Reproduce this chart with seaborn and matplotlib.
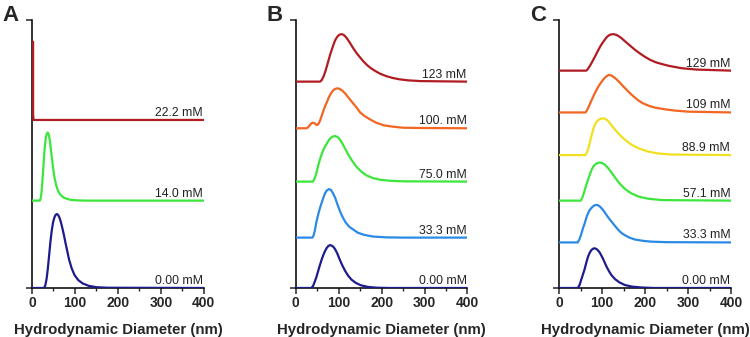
import numpy as np
import pandas as pd
import matplotlib
matplotlib.use("Agg")
import matplotlib.pyplot as plt
import seaborn as sns
from matplotlib.ticker import MultipleLocator

# colours
NAVY = '#1c1c8c'
BLUE = '#2a8ae6'
GREEN = '#3ce63c'
YELLOW = '#f0e020'
ORANGE = '#f26522'
RED = '#b01c22'

# ---- panel A (stacked, offset values) ----
a_navy_x = [0, 28, 31, 34, 37, 40, 43, 46, 49, 52, 55, 58, 61, 64, 67, 70, 74, 78, 82, 86, 92, 99, 108, 118, 132, 150, 175, 400]
a_navy_y = [0, 0, 0.01, 0.035, 0.075, 0.125, 0.175, 0.215, 0.245, 0.263, 0.273, 0.276, 0.272, 0.262, 0.247, 0.228, 0.2,
            0.168, 0.138, 0.108, 0.075, 0.048, 0.029, 0.017, 0.008, 0.003, 0.001, 0]
a_green_x = [0, 18, 20, 22, 24, 26, 28, 30, 32, 34, 36, 38, 40, 42, 44, 46, 49, 52, 56, 60, 65, 72, 80, 90, 105, 130, 400]
a_green_y = [0.326, 0.326, 0.333, 0.355, 0.395, 0.44, 0.49, 0.53, 0.558, 0.574, 0.58, 0.577, 0.565, 0.545, 0.515, 0.49,
             0.448, 0.415, 0.385, 0.365, 0.35, 0.339, 0.333, 0.329, 0.327, 0.326, 0.326]
a_red_x = [2.5, 2.5, 3.5, 400]
a_red_y = [0.919, 0.65, 0.627, 0.627]

# ---- panel B ----
b_navy_x = [0, 36, 40, 44, 48, 52, 56, 60, 64, 68, 72, 76, 80, 84, 88, 92, 97, 102, 108, 115, 122, 130, 140, 152, 168, 190, 220, 400]
b_navy_y = [0, 0, 0.006, 0.022, 0.04, 0.062, 0.084, 0.104, 0.122, 0.137, 0.149, 0.157, 0.16, 0.158, 0.153, 0.144, 0.128,
            0.108, 0.086, 0.064, 0.046, 0.031, 0.019, 0.01, 0.004, 0.001, 0, 0]
b_blue_x = [0, 39, 42, 45, 48, 52, 56, 60, 64, 68, 72, 77, 82, 87, 92, 98, 104, 110, 117, 125, 134, 145, 160, 180, 210, 250, 400]
b_blue_y = [0.188, 0.188, 0.198, 0.218, 0.245, 0.272, 0.296, 0.316, 0.335, 0.353, 0.363, 0.369, 0.366, 0.353, 0.336, 0.308,
            0.283, 0.262, 0.243, 0.228, 0.218, 0.206, 0.198, 0.192, 0.189, 0.188, 0.188]
b_green_x = [0, 40, 44, 48, 52, 56, 60, 64, 68, 72, 76, 80, 85, 91, 97, 103, 109, 115, 122, 130, 141, 153, 165, 180, 196, 220, 250, 400]
b_green_y = [0.397, 0.397, 0.408, 0.428, 0.455, 0.478, 0.497, 0.514, 0.527, 0.538, 0.549, 0.558, 0.564, 0.567, 0.564, 0.554,
             0.538, 0.52, 0.499, 0.478, 0.453, 0.434, 0.42, 0.41, 0.404, 0.4, 0.398, 0.397]
b_orange_x = [0, 25, 29, 33, 37, 41, 45, 49, 53, 57, 61, 65, 69, 73, 77, 82, 87, 92, 97, 102, 108, 114, 120, 127, 134, 142,
              150, 160, 172, 187, 205, 226, 250, 290, 400]
b_orange_y = [0.596, 0.596, 0.6, 0.608, 0.615, 0.617, 0.613, 0.608, 0.612, 0.626, 0.645, 0.664, 0.681, 0.695, 0.711, 0.726,
              0.737, 0.743, 0.745, 0.743, 0.737, 0.728, 0.716, 0.702, 0.688, 0.673, 0.655, 0.642, 0.63, 0.617, 0.607, 0.602,
              0.598, 0.597, 0.596]
b_red_x = [0, 57, 61, 65, 69, 73, 77, 81, 85, 89, 93, 98, 103, 107, 112, 117, 122, 128, 135, 142, 150, 158, 166, 176, 186,
           196, 210, 225, 240, 260, 290, 400]
b_red_y = [0.77, 0.77, 0.777, 0.79, 0.808, 0.83, 0.853, 0.875, 0.894, 0.913, 0.928, 0.94, 0.946, 0.947, 0.944, 0.936, 0.925,
           0.91, 0.892, 0.876, 0.86, 0.845, 0.832, 0.819, 0.809, 0.80, 0.791, 0.784, 0.779, 0.775, 0.772, 0.77]

# ---- panel C ----
c_navy_x = [0, 43, 47, 51, 55, 59, 63, 67, 71, 75, 79, 83, 87, 91, 95, 100, 105, 110, 116, 122, 130, 140, 153, 170, 190, 220, 400]
c_navy_y = [0, 0, 0.01, 0.03, 0.05, 0.07, 0.095, 0.117, 0.132, 0.142, 0.147, 0.148, 0.145, 0.139, 0.13, 0.115, 0.098, 0.08,
            0.062, 0.047, 0.033, 0.021, 0.011, 0.005, 0.002, 0, 0]
c_blue_x = [0, 43, 47, 51, 55, 59, 63, 67, 71, 75, 79, 83, 87, 91, 96, 102, 108, 115, 122, 130, 138, 145, 155, 165, 176, 195, 214, 250, 400]
c_blue_y = [0.17, 0.17, 0.182, 0.2, 0.222, 0.24, 0.262, 0.279, 0.291, 0.299, 0.305, 0.309, 0.31, 0.308, 0.302, 0.291, 0.277,
            0.261, 0.247, 0.231, 0.216, 0.205, 0.195, 0.187, 0.181, 0.176, 0.173, 0.171, 0.17]
c_green_x = [0, 50, 54, 58, 62, 66, 70, 75, 80, 85, 90, 95, 100, 106, 114, 122, 130, 137, 145, 155, 168, 185, 207, 240, 400]
c_green_y = [0.326, 0.326, 0.338, 0.358, 0.38, 0.4, 0.418, 0.44, 0.455, 0.463, 0.467, 0.468, 0.466, 0.46, 0.447, 0.43, 0.412,
             0.397, 0.382, 0.367, 0.353, 0.341, 0.333, 0.328, 0.326]
c_yellow_x = [0, 61, 65, 69, 73, 77, 81, 85, 89, 94, 98, 102, 107, 112, 118, 125, 133, 141, 150, 160, 170, 185, 207, 230, 260, 400]
c_yellow_y = [0.496, 0.496, 0.508, 0.528, 0.555, 0.58, 0.602, 0.615, 0.624, 0.63, 0.632, 0.633, 0.631, 0.626, 0.615, 0.6,
              0.585, 0.571, 0.557, 0.544, 0.533, 0.521, 0.509, 0.502, 0.498, 0.496]
c_orange_x = [0, 61, 65, 69, 73, 77, 82, 87, 92, 97, 102, 107, 112, 116, 121, 127, 133, 140, 148, 157, 166, 175, 184, 195,
              210, 223, 245, 269, 300, 400]
c_orange_y = [0.655, 0.655, 0.664, 0.678, 0.693, 0.707, 0.724, 0.74, 0.754, 0.766, 0.777, 0.786, 0.792, 0.795, 0.793, 0.787,
              0.779, 0.768, 0.754, 0.739, 0.725, 0.712, 0.70, 0.689, 0.679, 0.673, 0.667, 0.662, 0.658, 0.655]
c_red_x = [0, 63, 67, 71, 75, 79, 84, 89, 95, 100, 105, 110, 115, 120, 126, 132, 138, 145, 152, 160, 168, 177, 187, 199, 212,
           225, 238, 255, 285, 320, 400]
c_red_y = [0.811, 0.811, 0.818, 0.828, 0.839, 0.851, 0.866, 0.882, 0.90, 0.913, 0.924, 0.935, 0.942, 0.946, 0.947, 0.945,
           0.94, 0.932, 0.922, 0.911, 0.90, 0.888, 0.876, 0.863, 0.851, 0.842, 0.836, 0.829, 0.82, 0.815, 0.811]

panels = [
    ('A', 0.0427, [
        (a_navy_x, a_navy_y, NAVY, '0.00 mM'),
        (a_green_x, a_green_y, GREEN, '14.0 mM'),
        (a_red_x, a_red_y, RED, '22.2 mM'),
    ]),
    ('B', 0.3943, [
        (b_navy_x, b_navy_y, NAVY, '0.00 mM'),
        (b_blue_x, b_blue_y, BLUE, '33.3 mM'),
        (b_green_x, b_green_y, GREEN, '75.0 mM'),
        (b_orange_x, b_orange_y, ORANGE, '100. mM'),
        (b_red_x, b_red_y, RED, '123 mM'),
    ]),
    ('C', 0.7457, [
        (c_navy_x, c_navy_y, NAVY, '0.00 mM'),
        (c_blue_x, c_blue_y, BLUE, '33.3 mM'),
        (c_green_x, c_green_y, GREEN, '57.1 mM'),
        (c_yellow_x, c_yellow_y, YELLOW, '88.9 mM'),
        (c_orange_x, c_orange_y, ORANGE, '109 mM'),
        (c_red_x, c_red_y, RED, '129 mM'),
    ]),
]

sns.set_style('ticks')
plt.rcParams['font.family'] = ['Liberation Sans', 'DejaVu Sans']

fig = plt.figure(figsize=(7.5, 3.37), dpi=100)

for letter, left, curves in panels:
    ax = fig.add_axes([left, 0.1454, 0.229, 0.7953])
    for xs, ys, col, lab in curves:
        df = pd.DataFrame({'x': xs, 'y': ys})
        sns.lineplot(data=df, x='x', y='y', color=col, lw=1.6, sort=False,
                     estimator=None, ax=ax, zorder=3)
        ax.text(398, ys[-1] + 0.004, lab, ha='right', va='bottom',
                fontsize=8.8, color='#222222', zorder=4)
    ax.set_xlim(0, 400)
    ax.set_ylim(0, 1)
    ax.set_xticks([0, 100, 200, 300, 400])
    ax.xaxis.set_minor_locator(MultipleLocator(50))
    ax.set_yticks([0, 1])
    ax.set_yticklabels([])
    ax.tick_params(axis='x', which='major', length=4, width=1.1, labelsize=10, pad=2)
    ax.tick_params(axis='x', which='minor', length=2.5, width=1.0)
    ax.tick_params(axis='y', length=4, width=1.1)
    for lbl in ax.get_xticklabels():
        lbl.set_fontweight('bold')
    ax.set_xlabel('Hydrodynamic Diameter (nm)', fontsize=10.8, fontweight='bold', labelpad=9)
    ax.set_ylabel('')
    for s in ['left', 'bottom']:
        ax.spines[s].set_linewidth(1.2)
        ax.spines[s].set_color('#111111')
    sns.despine(ax=ax)
    fig.text(left - 0.039, 0.985, letter, fontsize=16, fontweight='bold', va='top', ha='left')

fig.savefig('out.png', dpi=100)
